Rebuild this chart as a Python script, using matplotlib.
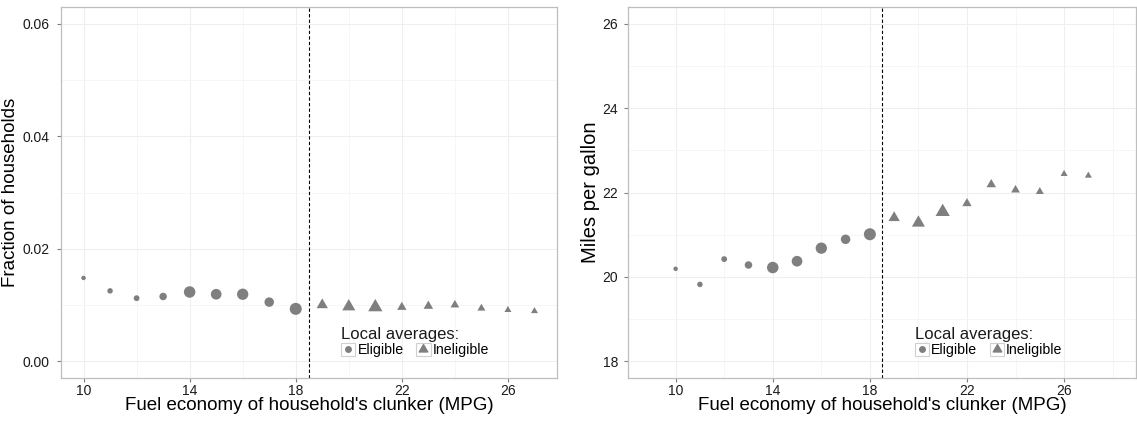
import numpy as np
import matplotlib
matplotlib.use("Agg")
import matplotlib.pyplot as plt
from matplotlib.path import Path
from matplotlib.lines import Line2D
from matplotlib.patches import Rectangle
from matplotlib.ticker import FixedLocator, FormatStrFormatter

plt.rcParams['font.family'] = ['Liberation Sans', 'DejaVu Sans']

# clunker fuel economy bins (MPG); eligible below 18.5
mpg_bin = np.arange(10, 28)
cutoff = 18.5

# left panel: fraction of households in each bin
frac_households = [0.0148, 0.0125, 0.0112, 0.0115, 0.0123, 0.0119, 0.0119, 0.0105, 0.0093,
                   0.0100, 0.0097, 0.0096, 0.0096, 0.0098, 0.0100, 0.0094, 0.0091, 0.0089]
# right panel: miles per gallon of new car
mpg_new = [20.19, 19.82, 20.42, 20.28, 20.22, 20.37, 20.68, 20.89, 21.01,
           21.40, 21.28, 21.54, 21.74, 22.19, 22.06, 22.02, 22.44, 22.40]
# relative weight of each local average (drives marker size)
bin_weight = [20, 30, 34, 56, 132, 114, 128, 90, 144,
              71, 94, 112, 48, 50, 42, 35, 27, 27]

grey = '#7F7F7F'
px = 0.72  # points per pixel at 100 dpi

# R-style triangle, centred on its centroid
tri = Path([(0, 1.555), (1.3468, -0.7776), (-1.3468, -0.7776), (0, 1.555)],
           [Path.MOVETO, Path.LINETO, Path.LINETO, Path.CLOSEPOLY])

x = np.array(mpg_bin)
w = np.array(bin_weight, dtype=float)
diam = np.sqrt(w)  # pixels
elig = x < cutoff

fig = plt.figure(figsize=(11.37, 4.21), dpi=100)
ax1 = fig.add_axes([61 / 1137, 43 / 421, 496 / 1137, 371 / 421])
ax2 = fig.add_axes([628.3 / 1137, 43 / 421, 507.4 / 1137, 371 / 421])


def style(ax, xlim, ylim, yticks, yminor, fmt, ypad):
    ax.set_xlim(*xlim)
    ax.set_ylim(*ylim)
    ax.xaxis.set_major_locator(FixedLocator([10, 14, 18, 22, 26]))
    ax.xaxis.set_minor_locator(FixedLocator([8, 12, 16, 20, 24, 28]))
    ax.yaxis.set_major_locator(FixedLocator(yticks))
    ax.yaxis.set_minor_locator(FixedLocator(yminor))
    ax.yaxis.set_major_formatter(FormatStrFormatter(fmt))
    ax.grid(True, which='major', color='#EFEFEF', linewidth=0.8)
    ax.grid(True, which='minor', color='#F5F5F5', linewidth=0.6)
    ax.set_axisbelow(True)
    for s in ax.spines.values():
        s.set_color('#BEBEBE')
        s.set_linewidth(0.9)
    ax.tick_params(which='major', length=3, width=0.8, color='#7F7F7F',
                   labelsize=10, labelcolor='#1A1A1A')
    ax.tick_params(axis='x', which='major', pad=1.3)
    ax.tick_params(axis='y', which='major', pad=ypad)
    ax.tick_params(which='minor', length=0)
    ax.axvline(cutoff, color='black', linestyle=(0, (3, 2)), linewidth=0.8)


def draw(ax, y):
    y = np.array(y)
    ax.scatter(x[elig], y[elig], s=(diam[elig] * px) ** 2, marker='o',
               color=grey, linewidths=0, zorder=3)
    ax.scatter(x[~elig], y[~elig], s=(1.555 * diam[~elig] * px) ** 2, marker=tri,
               color=grey, linewidths=0, zorder=3)
    key = dict(facecolor='white', edgecolor='#D0D0D0', linewidth=0.8)
    h1 = (Rectangle((0, 0), 1, 1, **key),
          Line2D([], [], marker='o', color=grey, linestyle='none', markersize=5.5 * px))
    h2 = (Rectangle((0, 0), 1, 1, **key),
          Line2D([], [], marker=tri, color=grey, linestyle='none', markersize=9.8 * px))
    leg = ax.legend([h1, h2], ['Eligible', 'Ineligible'], title='Local averages:',
                    ncol=2, loc='upper left', bbox_to_anchor=(0.545, 0.165),
                    frameon=False, fontsize=10.2, title_fontsize=12,
                    handlelength=1.0, handleheight=1.0, handletextpad=0.15,
                    columnspacing=0.9, borderpad=0.2, labelspacing=0.1,
                    alignment='left')
    leg.get_title().set_color('#1A1A1A')
    ax.set_xlabel("Fuel economy of household's clunker (MPG)", fontsize=13.5)
    ax.xaxis.set_label_coords(0.5, -0.052)


style(ax1, (9.15, 27.85), (-0.003, 0.063), [0, 0.02, 0.04, 0.06], [0.01, 0.03, 0.05], '%.2f', 5.5)
draw(ax1, frac_households)
ax1.set_ylabel('Fraction of households', fontsize=13.5)
ax1.yaxis.set_label_coords(-0.084, 0.5)

style(ax2, (8.05, 28.95), (17.6, 26.4), [18, 20, 22, 24, 26], [19, 21, 23, 25], '%d', 4.5)
draw(ax2, mpg_new)
ax2.set_ylabel('Miles per gallon', fontsize=14.5)
ax2.yaxis.set_label_coords(-0.055, 0.5)

fig.savefig('out.png', dpi=100)
